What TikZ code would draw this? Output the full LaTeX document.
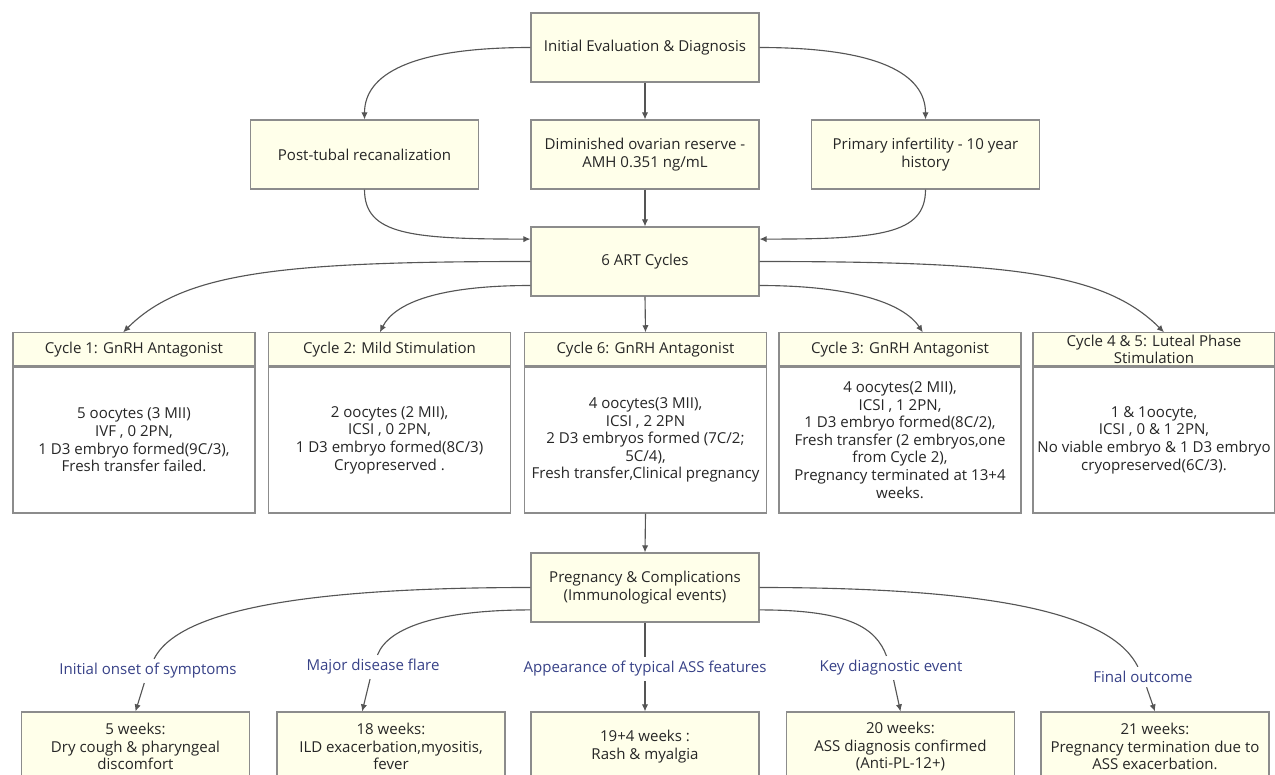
\documentclass[tikz,border=0pt]{standalone}
\usepackage{fontspec}
\setmainfont{Open Sans}
\usetikzlibrary{arrows.meta}
\definecolor{boxfill}{RGB}{255,255,234}
\definecolor{boxline}{RGB}{140,140,140}
\definecolor{lbltext}{RGB}{55,65,135}
\definecolor{edgecol}{RGB}{85,85,85}
\begin{document}
\begin{tikzpicture}[x=0.025cm,y=-0.025cm,
        every node/.style={font=\fontsize{10.7}{12.5}\selectfont,text=black!85},
        box/.style={draw=boxline,line width=.8pt,fill=boxfill,align=center,minimum width=5.7cm,minimum height=1.725cm,inner sep=2pt},
        head/.style={draw=boxline,line width=.8pt,fill=boxfill,align=center,minimum width=6.05cm,minimum height=.825cm,inner ysep=0pt,anchor=south},
        body/.style={draw=boxline,line width=.8pt,fill=white,align=center,minimum width=6.05cm,minimum height=3.65cm,inner sep=1pt},
        lbl/.style={text=lbltext,inner sep=3pt},
        link/.style={draw=edgecol,line width=.8pt},
        arr/.style={link,-{Latex[length=5pt,width=4.5pt]}}]
        \clip (0,0) rectangle (1275,775);

        \node[box] (init) at (645,47.5) {Initial Evaluation \& Diagnosis};
        \node[box] (post) at (364.5,154.5) {Post-tubal recanalization};
        \node[box] (dim) at (645,154.5) {Diminished ovarian reserve -\\AMH 0.351 ng/mL};
        \node[box] (prim) at (925.5,154.5) {Primary infertility - 10 year\\history};
        \node[box] (art) at (645,261.5) {6 ART Cycles};

        % the six cycles
        \node[body] (c1) at (134,440) {5 oocytes (3 MII)\\IVF , 0 2PN,\\1 D3 embryo formed(9C/3),\\Fresh transfer failed.};
        \node[head] (c1h) at (c1.north) {Cycle 1: GnRH Antagonist};
        \node[body] (c2) at (389.5,440) {2 oocytes (2 MII),\\ICSI , 0 2PN,\\1 D3 embryo formed(8C/3)\\Cryopreserved .};
        \node[head] (c2h) at (c2.north) {Cycle 2: Mild Stimulation};
        \node[body] (c6) at (645.5,440) {4 oocytes(3 MII),\\ICSI , 2 2PN\\2 D3 embryos formed (7C/2;\\5C/4),\\Fresh transfer,Clinical pregnancy};
        \node[head] (c6h) at (c6.north) {Cycle 6: GnRH Antagonist};
        \node[body] (c3) at (900,440) {4 oocytes(2 MII),\\ICSI , 1 2PN,\\1 D3 embryo formed(8C/2),\\Fresh transfer (2 embryos,one\\from Cycle 2),\\Pregnancy terminated at 13+4\\weeks.};
        \node[head] (c3h) at (c3.north) {Cycle 3: GnRH Antagonist};
        \node[body] (c45) at (1154,440) {1 \& 1oocyte,\\ICSI , 0 \& 1 2PN,\\No viable embryo \& 1 D3 embryo\\cryopreserved(6C/3).};
        \node[head] (c45h) at (c45.north) {Cycle 4 \& 5: Luteal Phase\\Stimulation};

        \node[box] (preg) at (645,587.5) {Pregnancy \& Complications\\(Immunological events)};

        % timeline
        \node[lbl] (l1) at (148,671) {Initial onset of symptoms};
        \node[lbl] (l2) at (373,667) {Major disease flare};
        \node[lbl] (l3) at (645,669) {Appearance of typical ASS features};
        \node[lbl] (l4) at (891,668) {Key diagnostic event};
        \node[lbl] (l5) at (1143,677) {Final outcome};
        \node[box] (b1) at (135.5,746.5) {5 weeks:\\Dry cough \& pharyngeal\\discomfort};
        \node[box] (b2) at (391,746.5) {18 weeks:\\ILD exacerbation,myositis,\\fever};
        \node[box] (b3) at (645,746.5) {19+4 weeks :\\Rash \& myalgia};
        \node[box] (b4) at (900.5,746.5) {20 weeks:\\ASS diagnosis confirmed\\(Anti-PL-12+)};
        \node[box] (b5) at (1155,746.5) {21 weeks:\\Pregnancy termination due to\\ASS exacerbation.};

        \draw[arr] (init.west) .. controls +(-120,0) and +(0,-45) .. (post.north);
        \draw[arr] (init.south) -- (dim.north);
        \draw[arr] (init.east) .. controls +(120,0) and +(0,-45) .. (prim.north);
        \draw[arr] (post.south) .. controls +(0,45) and +(-120,0) .. ([yshift=.56cm]art.west);
        \draw[arr] (dim.south) -- (art.north);
        \draw[arr] (prim.south) .. controls +(0,45) and +(120,0) .. ([yshift=.56cm]art.east);

        \draw[arr] (art.west) .. controls +(-250,0) and +(60,-60) .. ([xshift=-.27cm]c1h.north);
        \draw[arr] ([yshift=-.6cm]art.west) .. controls +(-90,0) and +(15,-30) .. ([xshift=-.24cm]c2h.north);
        \draw[arr] (art.south) -- (c6h.north);
        \draw[arr] ([yshift=-.6cm]art.east) .. controls +(90,0) and +(-20,-30) .. ([xshift=.57cm]c3h.north);
        \draw[arr] (art.east) .. controls +(250,0) and +(-60,-60) .. ([xshift=.25cm]c45h.north);

        \draw[arr] (c6.south) -- (preg.north);

        \draw[link] (preg.west) .. controls +(-230,0) and +(30,-60) .. (l1);
        \draw[link] ([yshift=-.56cm]preg.west) .. controls +(-90,0) and +(15,-40) .. (l2);
        \draw[link] (preg.south) -- (l3);
        \draw[link] ([yshift=-.56cm]preg.east) .. controls +(90,0) and +(-15,-40) .. (l4);
        \draw[link] (preg.east) .. controls +(250,0) and +(-30,-60) .. (l5);
        \draw[arr] (l1) -- (b1.north);
        \draw[arr] (l2) -- ([xshift=-.72cm]b2.north);
        \draw[arr] (l3) -- (b3.north);
        \draw[arr] (l4) -- (b4.north);
        \draw[arr] (l5) -- (b5.north);
\end{tikzpicture}
\end{document}
